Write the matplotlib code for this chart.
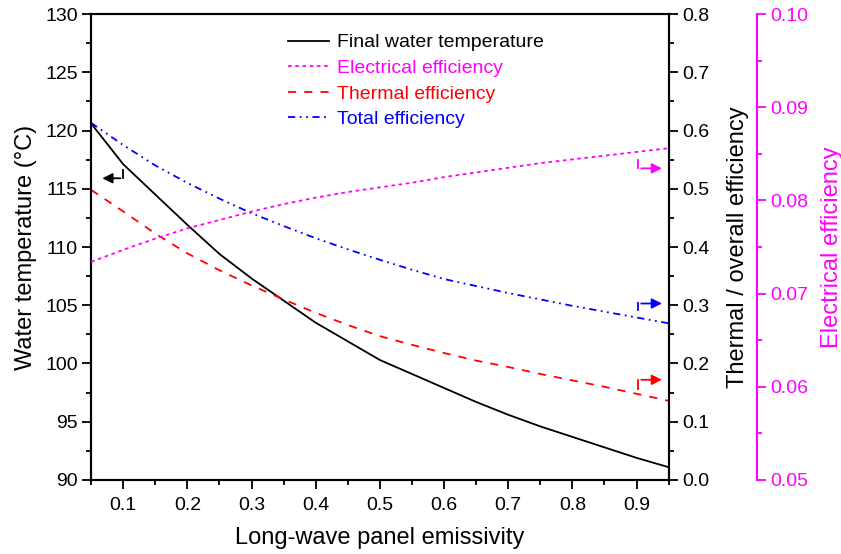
import matplotlib
matplotlib.use("Agg")
import matplotlib.pyplot as plt
from matplotlib.ticker import MultipleLocator

plt.rcParams["font.family"] = ["Liberation Sans", "DejaVu Sans"]

# emissivity sweep
emissivity = [0.05, 0.10, 0.15, 0.20, 0.25, 0.30, 0.35, 0.40, 0.45, 0.50,
              0.55, 0.60, 0.65, 0.70, 0.75, 0.80, 0.85, 0.90, 0.95]
water_temp = [120.6, 117.1, 114.5, 111.9, 109.4, 107.3, 105.4, 103.5, 101.9, 100.3,
              99.1, 97.9, 96.7, 95.6, 94.6, 93.7, 92.8, 91.9, 91.1]
thermal_eff = [0.498, 0.461, 0.423, 0.389, 0.360, 0.334, 0.310, 0.287, 0.266, 0.247,
               0.232, 0.218, 0.205, 0.194, 0.182, 0.171, 0.160, 0.148, 0.136]
total_eff = [0.613, 0.575, 0.540, 0.510, 0.483, 0.458, 0.436, 0.415, 0.396, 0.378,
             0.361, 0.345, 0.333, 0.321, 0.310, 0.299, 0.289, 0.279, 0.269]
elec_eff = [0.0734, 0.0747, 0.0759, 0.0770, 0.0779, 0.0788, 0.0796, 0.0803, 0.0809, 0.0814,
            0.0819, 0.0825, 0.0830, 0.0835, 0.0840, 0.0844, 0.0848, 0.0852, 0.0856]

MAG = "#FF00FF"
LW = 1.3

fig = plt.figure(figsize=(8.41, 5.54), dpi=100)
ax = fig.add_axes([0.1084, 0.1336, 0.6866, 0.8411])
ax2 = ax.twinx()
ax3 = ax.twinx()
ax3.spines["right"].set_position(("axes", 1.153))

l1, = ax.plot(emissivity, water_temp, color="black", lw=LW, label="Final water temperature")
l2, = ax3.plot(emissivity, elec_eff, color=MAG, lw=LW, ls=(0, (2, 2)), label="Electrical efficiency")
l3, = ax2.plot(emissivity, thermal_eff, color="red", lw=LW, ls=(0, (4.5, 4.5)), label="Thermal efficiency")
l4, = ax2.plot(emissivity, total_eff, color="blue", lw=LW,
               ls=(0, (4, 2.5, 1, 2.5, 1, 2.5)), label="Total efficiency")

ax.set_xlim(0.05, 0.95)
ax.set_ylim(90, 130)
ax2.set_ylim(0.0, 0.8)
ax3.set_ylim(0.05, 0.10)

ax.xaxis.set_major_locator(MultipleLocator(0.1))
ax.xaxis.set_minor_locator(MultipleLocator(0.05))
ax.yaxis.set_major_locator(MultipleLocator(5))
ax.yaxis.set_minor_locator(MultipleLocator(2.5))
ax2.yaxis.set_major_locator(MultipleLocator(0.1))
ax2.yaxis.set_minor_locator(MultipleLocator(0.05))
ax3.yaxis.set_major_locator(MultipleLocator(0.01))
ax3.yaxis.set_minor_locator(MultipleLocator(0.005))
ax2.yaxis.set_major_formatter(plt.FormatStrFormatter("%.1f"))
ax3.yaxis.set_major_formatter(plt.FormatStrFormatter("%.2f"))

for a in (ax, ax2):
    for s in a.spines.values():
        s.set_linewidth(1.5)
ax.tick_params(which="both", direction="out", width=1.3, labelsize=14, pad=3)
ax.tick_params(which="major", length=6.5)
ax.tick_params(which="minor", length=3.3)
ax.tick_params(axis="x", pad=6)
ax2.tick_params(which="both", direction="out", width=1.3, labelsize=14, pad=3)
ax2.tick_params(which="major", length=6.5)
ax2.tick_params(which="minor", length=3.3)

for sp in ("left", "top", "bottom"):
    ax3.spines[sp].set_visible(False)
ax3.spines["right"].set_color(MAG)
ax3.spines["right"].set_linewidth(1.5)
ax3.tick_params(which="both", direction="out", width=1.3, colors=MAG, labelsize=14, pad=3)
ax3.tick_params(which="major", length=6.5)
ax3.tick_params(which="minor", length=3.3)

ax.set_xlabel("Long-wave panel emissivity", fontsize=17, labelpad=9)
ax.set_ylabel("Water temperature (\u00b0C)", fontsize=17, labelpad=6)
ax2.set_ylabel("Thermal / overall efficiency", fontsize=17, labelpad=13)
ax3.set_ylabel("Electrical efficiency", fontsize=17, color=MAG, labelpad=9)

leg = ax.legend(handles=[l1, l2, l3, l4], loc="upper left", bbox_to_anchor=(0.311, 0.995),
                frameon=False, fontsize=14, handlelength=2.1, handletextpad=0.4,
                labelspacing=0.41)
for txt, line in zip(leg.get_texts(), [l1, l2, l3, l4]):
    txt.set_color(line.get_color())

# axis indicator arrows
ax.annotate("", xy=(0.063, 115.9), xytext=(0.1, 115.9),
            arrowprops=dict(arrowstyle="-|>", color="black", lw=1.3, mutation_scale=15))
ax.plot([0.1, 0.1], [115.9, 116.6], color="black", lw=1.3)

for yv, ytip, col in [(0.535, 0.549, MAG), (0.303, 0.291, "blue"), (0.172, 0.156, "red")]:
    ax2.annotate("", xy=(0.944, yv), xytext=(0.903, yv),
                 arrowprops=dict(arrowstyle="-|>", color=col, lw=1.3, mutation_scale=15))
    ax2.plot([0.903, 0.903], [yv, ytip], color=col, lw=1.3)

fig.savefig("out.png", dpi=100)
